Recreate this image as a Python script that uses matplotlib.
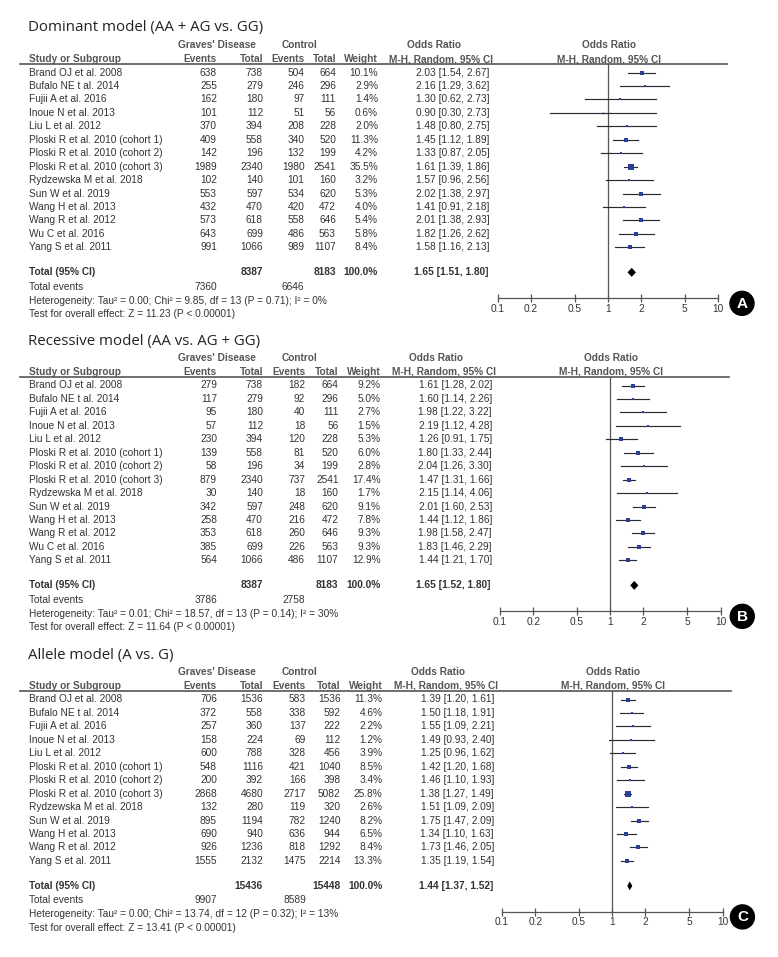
import matplotlib
matplotlib.use("Agg")
import matplotlib.pyplot as plt
from matplotlib.patches import Circle

W, H = 778, 957

studies = ["Brand OJ et al. 2008", "Bufalo NE t al. 2014", "Fujii A et al. 2016",
           "Inoue N et al. 2013", "Liu L et al. 2012", "Ploski R et al. 2010 (cohort 1)",
           "Ploski R et al. 2010 (cohort 2)", "Ploski R et al. 2010 (cohort 3)",
           "Rydzewska M et al. 2018", "Sun W et al. 2019", "Wang H et al. 2013",
           "Wang R et al. 2012", "Wu C et al. 2016", "Yang S et al. 2011"]
studies_c = [s for s in studies if not s.startswith("Wu C")]

# dominant model
a_title = "Dominant model (AA + AG vs. GG)"
a_gd_events = [638, 255, 162, 101, 370, 409, 142, 1989, 102, 553, 432, 573, 643, 991]
a_gd_total = [738, 279, 180, 112, 394, 558, 196, 2340, 140, 597, 470, 618, 699, 1066]
a_ct_events = [504, 246, 97, 51, 208, 340, 132, 1980, 101, 534, 420, 558, 486, 989]
a_ct_total = [664, 296, 111, 56, 228, 520, 199, 2541, 160, 620, 472, 646, 563, 1107]
a_weight = [10.1, 2.9, 1.4, 0.6, 2.0, 11.3, 4.2, 35.5, 3.2, 5.3, 4.0, 5.4, 5.8, 8.4]
a_or = [2.03, 2.16, 1.30, 0.90, 1.48, 1.45, 1.33, 1.61, 1.57, 2.02, 1.41, 2.01, 1.82, 1.58]
a_lo = [1.54, 1.29, 0.62, 0.30, 0.80, 1.12, 0.87, 1.39, 0.96, 1.38, 0.91, 1.38, 1.26, 1.16]
a_hi = [2.67, 3.62, 2.73, 2.73, 2.75, 1.89, 2.05, 1.86, 2.56, 2.97, 2.18, 2.93, 2.62, 2.13]
a_tot = [8387, 8183, 7360, 6646]
a_pool = [1.65, 1.51, 1.80]
a_het = "Heterogeneity: Tau\u00b2 = 0.00; Chi\u00b2 = 9.85, df = 13 (P = 0.71); I\u00b2 = 0%"
a_test = "Test for overall effect: Z = 11.23 (P < 0.00001)"

# recessive model
b_title = "Recessive model (AA vs. AG + GG)"
b_gd_events = [279, 117, 95, 57, 230, 139, 58, 879, 30, 342, 258, 353, 385, 564]
b_gd_total = a_gd_total
b_ct_events = [182, 92, 40, 18, 120, 81, 34, 737, 18, 248, 216, 260, 226, 486]
b_ct_total = a_ct_total
b_weight = [9.2, 5.0, 2.7, 1.5, 5.3, 6.0, 2.8, 17.4, 1.7, 9.1, 7.8, 9.3, 9.3, 12.9]
b_or = [1.61, 1.60, 1.98, 2.19, 1.26, 1.80, 2.04, 1.47, 2.15, 2.01, 1.44, 1.98, 1.83, 1.44]
b_lo = [1.28, 1.14, 1.22, 1.12, 0.91, 1.33, 1.26, 1.31, 1.14, 1.60, 1.12, 1.58, 1.46, 1.21]
b_hi = [2.02, 2.26, 3.22, 4.28, 1.75, 2.44, 3.30, 1.66, 4.06, 2.53, 1.86, 2.47, 2.29, 1.70]
b_tot = [8387, 8183, 3786, 2758]
b_pool = [1.65, 1.52, 1.80]
b_het = "Heterogeneity: Tau\u00b2 = 0.01; Chi\u00b2 = 18.57, df = 13 (P = 0.14); I\u00b2 = 30%"
b_test = "Test for overall effect: Z = 11.64 (P < 0.00001)"

# allele model
c_title = "Allele model (A vs. G)"
c_gd_events = [706, 372, 257, 158, 600, 548, 200, 2868, 132, 895, 690, 926, 1555]
c_gd_total = [1536, 558, 360, 224, 788, 1116, 392, 4680, 280, 1194, 940, 1236, 2132]
c_ct_events = [583, 338, 137, 69, 328, 421, 166, 2717, 119, 782, 636, 818, 1475]
c_ct_total = [1536, 592, 222, 112, 456, 1040, 398, 5082, 320, 1240, 944, 1292, 2214]
c_weight = [11.3, 4.6, 2.2, 1.2, 3.9, 8.5, 3.4, 25.8, 2.6, 8.2, 6.5, 8.4, 13.3]
c_or = [1.39, 1.50, 1.55, 1.49, 1.25, 1.42, 1.46, 1.38, 1.51, 1.75, 1.34, 1.73, 1.35]
c_lo = [1.20, 1.18, 1.09, 0.93, 0.96, 1.20, 1.10, 1.27, 1.09, 1.47, 1.10, 1.46, 1.19]
c_hi = [1.61, 1.91, 2.21, 2.40, 1.62, 1.68, 1.93, 1.49, 2.09, 2.09, 1.63, 2.05, 1.54]
c_tot = [15436, 15448, 9907, 8589]
c_pool = [1.44, 1.37, 1.52]
c_het = "Heterogeneity: Tau\u00b2 = 0.00; Chi\u00b2 = 13.74, df = 12 (P = 0.32); I\u00b2 = 13%"
c_test = "Test for overall effect: Z = 13.41 (P < 0.00001)"

ticks = [0.1, 0.2, 0.5, 1, 2, 5, 10]
tick_labels = ["0.1", "0.2", "0.5", "1", "2", "5", "10"]

TXT = "#333333"
HDR = "#555555"
BLUE = "#2a3f9a"
FS = 7.3
SANS = ["Liberation Sans", "DejaVu Sans"]

fig = plt.figure(figsize=(W / 100, H / 100), dpi=100)
bg = fig.add_axes([0, 0, 1, 1])
bg.set_xlim(0, W)
bg.set_ylim(H, 0)
bg.axis("off")


def t(x, y, s, ha="left", bold=False, color=TXT, size=FS):
    bg.text(x, y, s, ha=ha, va="center", fontsize=size, color=color,
            family=SANS, fontweight="bold" if bold else "normal")


def panel(top, dx, title, names, gde, gdt, cte, ctt, wt, orr, lo, hi, tot, pool, het, test, letter):
    row_h = 13.45
    first = 8.5
    n = len(names)
    # column positions (pixels)
    c_ev1, c_tot1, c_ev2 = 217, 263, 304.5 + dx * 0.3
    c_tot2, c_w, c_or = 336 + dx, 378 + dx, 489.5 + dx
    x01, x10 = 497.5 + dx, 718 + dx

    bg.text(28, top - 36, title, ha="left", va="center", fontsize=10.8,
            color="#222222", family=["Open Sans", "DejaVu Sans"])
    t(216.5, top - 19, "Graves' Disease", ha="center", bold=True, color=HDR)
    t(300, top - 19, "Control", ha="center", bold=True, color=HDR)
    t(434 + dx, top - 19, "Odds Ratio", ha="center", bold=True, color=HDR)
    t(609 + dx, top - 19, "Odds Ratio", ha="center", bold=True, color=HDR)
    hy = top - 5
    t(29, hy, "Study or Subgroup", bold=True, color=HDR)
    t(c_ev1, hy, "Events", ha="right", bold=True, color=HDR)
    t(c_tot1, hy, "Total", ha="right", bold=True, color=HDR)
    t(c_ev2, hy, "Events", ha="right", bold=True, color=HDR)
    t(c_tot2, hy, "Total", ha="right", bold=True, color=HDR)
    t(c_w, hy, "Weight", ha="right", bold=True, color=HDR)
    t(441.5 + dx, hy, "M-H, Random, 95% CI", ha="center", bold=True, color=HDR)
    t(609 + dx, hy, "M-H, Random, 95% CI", ha="center", bold=True, color=HDR)
    bg.plot([20, 727 + dx], [top, top], color="#555555", lw=1.2)

    for i in range(n):
        y = top + first + i * row_h
        t(29, y, names[i])
        t(c_ev1, y, str(gde[i]), ha="right")
        t(c_tot1, y, str(gdt[i]), ha="right")
        t(c_ev2, y, str(cte[i]), ha="right")
        t(c_tot2, y, str(ctt[i]), ha="right")
        t(c_w, y, "%.1f%%" % wt[i], ha="right")
        t(c_or, y, "%.2f [%.2f, %.2f]" % (orr[i], lo[i], hi[i]), ha="right")

    last = top + first + (n - 1) * row_h
    yt = last + 25
    t(29, yt, "Total (95% CI)", bold=True)
    t(c_tot1, yt, str(tot[0]), ha="right", bold=True)
    t(c_tot2, yt, str(tot[1]), ha="right", bold=True)
    t(c_w, yt, "100.0%", ha="right", bold=True)
    t(c_or - 1, yt, "%.2f [%.2f, %.2f]" % tuple(pool), ha="right", bold=True)
    t(29, last + 39.5, "Total events")
    t(c_ev1, last + 39.5, str(tot[2]), ha="right")
    t(c_ev2, last + 39.5, str(tot[3]), ha="right")
    t(29, last + 53.5, het)
    t(29, last + 67, test)

    # forest plot axes
    axis_y = last + 51
    ax = fig.add_axes([x01 / W, 1 - axis_y / H, (x10 - x01) / W, (axis_y - top) / H])
    ax.set_xscale("log")
    ax.set_xlim(0.1, 10)
    ax.set_ylim((n - 1) + 51 / row_h, -first / row_h)
    ax.patch.set_alpha(0)
    for s in ["top", "left", "right"]:
        ax.spines[s].set_visible(False)
    ax.spines["bottom"].set_color("#555555")
    ax.spines["bottom"].set_linewidth(0.9)
    ax.set_yticks([])
    ax.set_xticks(ticks)
    ax.set_xticklabels(tick_labels)
    ax.xaxis.set_minor_locator(matplotlib.ticker.NullLocator())
    ax.tick_params(axis="x", direction="inout", length=6, width=0.9, color="#555555",
                   labelsize=FS, labelcolor=TXT, pad=1)
    for lab in ax.get_xticklabels():
        lab.set_family(SANS)
    ax.axvline(1, color="#555555", lw=0.9)

    for i in range(n):
        ax.plot([lo[i], hi[i]], [i, i], color="#2b2b2b", lw=0.85)
        size_px = 1.2 + 0.8 * wt[i] ** 0.5
        ax.plot(orr[i], i, marker="s", ms=size_px * 0.72, color=BLUE, mec=BLUE, mew=0)

    yd = (n - 1) + 25 / row_h
    dh = 4.5 / row_h
    ax.fill([pool[1], pool[0], pool[2], pool[0]], [yd, yd - dh, yd, yd + dh],
            color="black", lw=0)

    cx, cy = 742 + dx * 0.1, axis_y + 5
    bg.add_patch(Circle((cx, cy), 12, color="black"))
    bg.text(cx, cy + 0.5, letter, ha="center", va="center", color="white",
            fontsize=11, fontweight="bold", family=SANS)


panel(64, 0, a_title, studies, a_gd_events, a_gd_total, a_ct_events, a_ct_total,
      a_weight, a_or, a_lo, a_hi, a_tot, a_pool, a_het, a_test, "A")
panel(377, 2.5, b_title, studies, b_gd_events, b_gd_total, b_ct_events, b_ct_total,
      b_weight, b_or, b_lo, b_hi, b_tot, b_pool, b_het, b_test, "B")
panel(691, 4.5, c_title, studies_c, c_gd_events, c_gd_total, c_ct_events, c_ct_total,
      c_weight, c_or, c_lo, c_hi, c_tot, c_pool, c_het, c_test, "C")

fig.savefig("out.png", dpi=100)
